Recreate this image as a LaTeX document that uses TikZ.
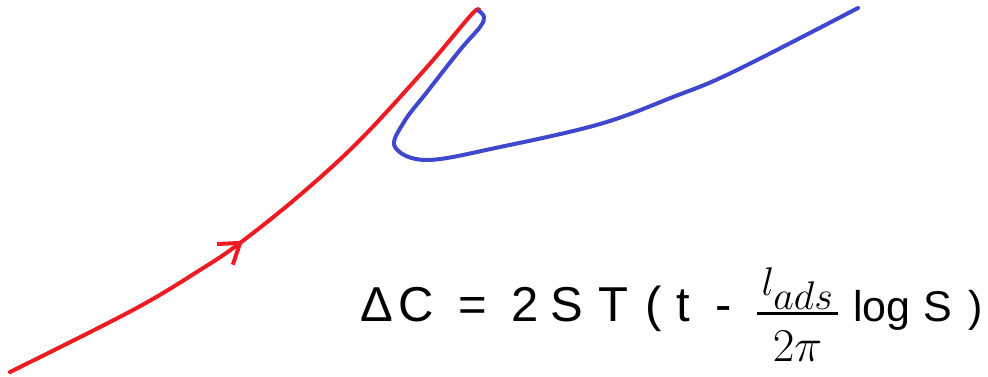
\RequirePackage{fix-cm}
\documentclass[tikz,border=0pt]{standalone}
\usepackage{fontspec}
\setmainfont{Liberation Sans}
\usetikzlibrary{arrows.meta, decorations.markings}
\definecolor{paintred}{RGB}{237,28,36}
\definecolor{paintblue}{RGB}{63,72,204}

\begin{document}
\begin{tikzpicture}[
  x=1pt, y=-1pt,
  curve/.style={line width=4pt, line cap=round, line join=round},
  inflow/.style={curve, paintred, postaction={decorate},
    decoration={markings, mark=at position 0.445 with
      {\arrow{Straight Barb[length=19pt, width=26pt, line width=4pt]}}}},
  outflow/.style={curve, paintblue},
  eqtext/.style={font=\fontsize{49}{58}\selectfont, inner sep=0pt, anchor=base west},
  eqsmall/.style={font=\fontsize{43}{52}\selectfont, inner sep=0pt, anchor=base west},
  fracbar/.style={fill=black, inner sep=0pt, minimum width=81pt, minimum height=3.5pt}
]
\useasboundingbox (0,0) rectangle (988,376);

%% --- incoming branch (red) ---
\draw[inflow] plot[smooth, tension=0.6] coordinates {
  (10,372) (133,310) (200,270) (240,243) (300,195)
  (360,140) (427,67) (472,14) (479,11)};

%% --- outgoing branch (blue) ---
\draw[outflow] plot[smooth, tension=0.6] coordinates {
  (479,11) (484,17) (480,27) (460,50) (427,92) (404,122)
  (395,147) (427,160) (500,147) (600,124) (673,97) (733,72) (858,8)};

%% --- formula ---
\node[eqtext] (lhs) at (360,321) {%
  \makebox[38pt][l]{Δ}\makebox[60pt][l]{C}\makebox[53pt][l]{=}%
  \makebox[39pt][l]{2}\makebox[48pt][l]{S}\makebox[47pt][l]{T}%
  \makebox[31pt][l]{(}\makebox[39pt][l]{t}-};
\node[fracbar] (bar) at (797.5,313.5) {};
\node[font=\fontsize{40}{48}\selectfont, inner sep=0pt, anchor=base]
  (num) at (797.5,295) {$l_{\textstyle ads}$};
\node[font=\fontsize{47}{56}\selectfont, inner sep=0pt, anchor=base]
  (den) at (797.5,361) {$2\pi$};
\node[eqsmall] (rhs) at (853,321) {%
  \makebox[70pt][l]{log}\makebox[45pt][l]{S})};

\end{tikzpicture}
\end{document}
